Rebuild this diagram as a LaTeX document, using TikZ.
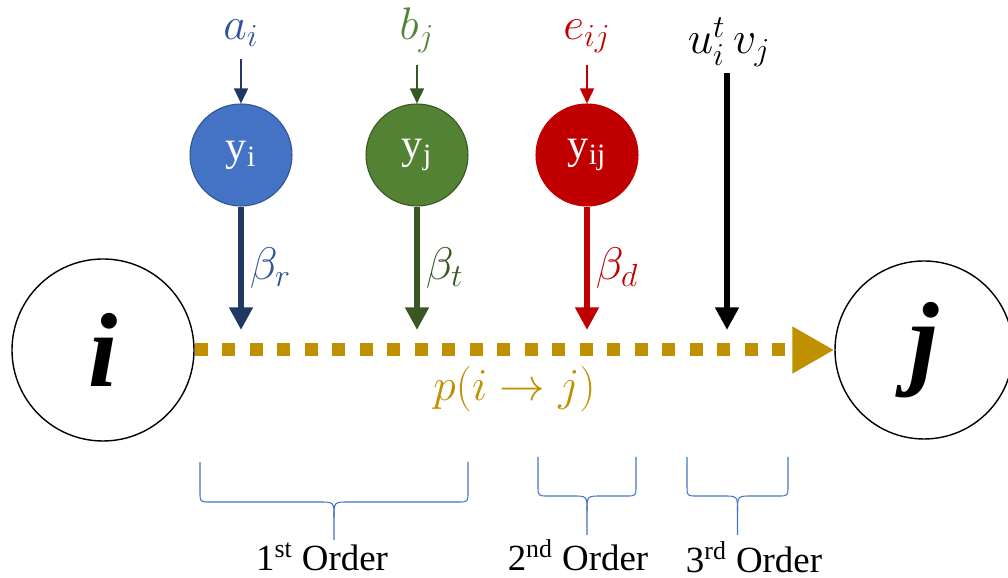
\documentclass[tikz,border=0pt]{standalone}
\usepackage{fix-cm}
\usepackage{fontspec}
\setmainfont{Liberation Serif}
\usetikzlibrary{arrows.meta, positioning, calc}
\definecolor{myblue}{HTML}{4472C4}
\definecolor{myblueline}{HTML}{2F5597}
\definecolor{mybluedark}{HTML}{203864}
\definecolor{mygreen}{HTML}{548235}
\definecolor{mygreendark}{HTML}{385723}
\definecolor{myred}{HTML}{C00000}
\definecolor{mygold}{HTML}{BF9000}
\tikzset{
	bignode/.style={draw, circle, minimum size=3.64cm, inner sep=0pt, line width=0.8pt,
		font=\fontsize{60}{60}\selectfont\bfseries\itshape}
}
\tikzset{
	ynode/.style={circle, minimum size=2.04cm, inner sep=0pt, line width=0.6pt, text=white,
		font=\fontsize{24}{28}\selectfont}
}
\tikzset{
	mathtext/.style={font=\fontsize{26}{30}\selectfont},
	ordertext/.style={font=\fontsize{21}{25}\selectfont},
	thinarrow/.style={line width=0.9pt, -{Triangle[length=0.3cm,width=0.28cm]}, shorten <=0.12cm},
	thickarrow/.style={line width=3.5pt, -{Triangle[length=0.45cm,width=0.45cm]}}
}

\begin{document}
\begin{tikzpicture}
      \useasboundingbox (0,0) rectangle (20.16,11.56);
      % end nodes
      \node[bignode] (nodeI) at (2.06,4.56) {i};
      \node[bignode, minimum size=3.56cm] (nodeJ) at (18.48,4.56) {j};
      % path from i to j
      \draw[mygold, line width=0.26cm, dash pattern=on 0.26cm off 0.29cm,
        -{Triangle[length=0.84cm,width=0.88cm]}] (nodeI) -- (nodeJ)
        node[midway, below=2pt, mathtext, text=mygold] {$p(i\rightarrow j)$};
      % hidden nodes
      \node[ynode, fill=myblue, draw=myblueline] (yi) at (4.82,8.46) {y\textsubscript{i}};
      \node[ynode, fill=mygreen, draw=mygreendark] (yj) at (8.34,8.46) {y\textsubscript{j}};
      \node[ynode, fill=myred, draw=myred] (yij) at (11.74,8.46) {y\textsubscript{ij}};
      % inputs
      \node[mathtext, text=myblueline, anchor=base] (ai) at (4.82,10.76) {$a_i$};
      \node[mathtext, text=mygreen, anchor=base] (bj) at (8.34,10.76) {$b_j$};
      \node[mathtext, text=myred, anchor=base] (eij) at (11.74,10.76) {$e_{ij}$};
      \node[mathtext, anchor=base] (uv) at (14.58,10.48) {$u_i^t\,v_j$};
      \draw[thinarrow, mybluedark] (ai) -- (yi);
      \draw[thinarrow, mygreendark] (bj) -- (yj);
      \draw[thinarrow, myred] (eij) -- (yij);
      % effects on the path
      \coordinate (ri) at (4.82,4.96);
      \coordinate (rj) at (8.34,4.96);
      \coordinate (rij) at (11.74,4.96);
      \coordinate (ruv) at (14.54,4.96);
      \draw[thickarrow, mybluedark] (yi) -- (ri)
        node[midway, right, mathtext, text=myblueline] {$\beta_r$};
      \draw[thickarrow, mygreendark] (yj) -- (rj)
        node[midway, right, mathtext, text=mygreendark] {$\beta_t$};
      \draw[thickarrow, myred] (yij) -- (rij)
        node[midway, right, mathtext, text=myred] {$\beta_d$};
      \draw[thickarrow, black] (uv.south -| ruv) -- (ruv);
      % braces
      \foreach \l/\r/\t/\m/\b in {4.0/9.36/2.32/1.52/0.76, 10.76/12.72/2.42/1.64/0.86, 13.74/15.76/2.42/1.64/0.86} {
        \draw[myblue, line width=0.6pt] (\l,\t) -- ({\l},{\m+0.2}) .. controls ({\l},{\m}) .. ({\l+0.2},{\m})
          -- ({(\l+\r)/2-0.3},{\m}) .. controls ({(\l+\r)/2},{\m}) .. ({(\l+\r)/2},{\m-0.3})
          -- ({(\l+\r)/2},{\b});
        \draw[myblue, line width=0.6pt] (\r,\t) -- ({\r},{\m+0.2}) .. controls ({\r},{\m}) .. ({\r-0.2},{\m})
          -- ({(\l+\r)/2+0.3},{\m}) .. controls ({(\l+\r)/2},{\m}) .. ({(\l+\r)/2},{\m-0.3});
      }
      \node[ordertext] (order1) at (6.44,0.42) {1\textsuperscript{st} Order};
      \node[ordertext] (order2) at (11.56,0.46) {2\textsuperscript{nd} Order};
      \node[ordertext] (order3) at (15.08,0.42) {3\textsuperscript{rd} Order};
    \end{tikzpicture}
\end{document}
